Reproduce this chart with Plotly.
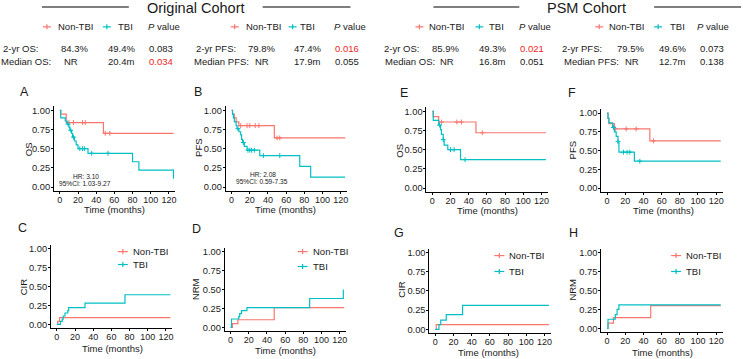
import plotly.graph_objects as go

W, H = 743, 359
RED = "#F8766D"
TEAL = "#00BFC4"
TXT = "#1a1a1a"
PRED = "#F01E1E"
FONT = "Liberation Sans, Arial, sans-serif"

# ---------------- data ----------------
# Panel A: OS, original cohort
A_non_t = [0, 1, 7, 48, 125]
A_non_s = [1.0, 0.95, 0.84, 0.70, 0.70]
A_non_c = [10, 15, 25, 28, 50, 55]
A_tbi_t = [0, 1, 6, 8, 10, 11, 13, 14, 16, 18, 20, 31, 80, 87, 125]
A_tbi_s = [1.0, 0.90, 0.86, 0.82, 0.78, 0.74, 0.70, 0.65, 0.60, 0.55, 0.50, 0.44, 0.33, 0.22, 0.11]
A_tbi_c = [9, 12, 15, 22, 25, 27, 35, 53]
# Panel B: PFS, original cohort
B_non_t = [0, 1, 3, 5, 8, 47, 125]
B_non_s = [1.0, 0.95, 0.90, 0.85, 0.80, 0.64, 0.64]
B_non_c = [10, 17, 20, 26, 30, 50, 53]
B_tbi_t = [0, 1, 2, 3, 5, 6, 8, 10, 11, 12, 14, 17, 31, 75, 87, 125]
B_tbi_s = [1.0, 0.95, 0.90, 0.85, 0.80, 0.76, 0.72, 0.68, 0.62, 0.58, 0.53, 0.48, 0.41, 0.27, 0.13, 0.13]
B_tbi_c = [7, 13, 18, 20, 22, 25, 35, 53]
# Panel E: OS, PSM cohort
E_non_t = [0, 1, 7, 48, 125]
E_non_s = [1.0, 0.93, 0.86, 0.72, 0.72]
E_non_c = [10, 27, 32, 55]
E_tbi_t = [0, 1, 7, 9, 10, 12, 13, 17, 31, 125]
E_tbi_s = [1.0, 0.88, 0.82, 0.76, 0.70, 0.63, 0.56, 0.50, 0.37, 0.37]
E_tbi_c = [8, 12, 20, 24, 36]
# Panel F: PFS, PSM cohort
F_non_t = [0, 1, 2, 8, 47, 125]
F_non_s = [1.0, 0.93, 0.86, 0.79, 0.63, 0.63]
F_non_c = [9, 21, 32, 51]
F_tbi_t = [0, 1, 2, 6, 8, 10, 12, 13, 30, 125]
F_tbi_s = [1.0, 0.93, 0.87, 0.81, 0.75, 0.69, 0.62, 0.48, 0.36, 0.36]
F_tbi_c = [7, 12, 18, 22, 25, 36]
# Panel C: CIR, original cohort
C_non_t = [0, 1, 3, 125]
C_non_s = [0.0, 0.04, 0.09, 0.09]
C_tbi_t = [0, 4, 6, 7, 9, 12, 13, 31, 75, 125]
C_tbi_s = [0.0, 0.04, 0.07, 0.11, 0.15, 0.18, 0.22, 0.28, 0.39, 0.39]
# Panel D: NRM, original cohort
D_non_t = [0, 2, 8, 48, 125]
D_non_s = [0.0, 0.05, 0.10, 0.26, 0.26]
D_tbi_t = [0, 1, 9, 10, 12, 18, 87, 124]
D_tbi_s = [0.0, 0.11, 0.14, 0.18, 0.22, 0.26, 0.38, 0.50]
# Panel G: CIR, PSM cohort
G_non_t = [0, 1, 125]
G_non_s = [0.0, 0.06, 0.06]
G_tbi_t = [0, 4, 6, 12, 30, 125]
G_tbi_s = [0.0, 0.06, 0.12, 0.19, 0.31, 0.31]
# Panel H: NRM, PSM cohort
H_non_t = [0, 1, 7, 48, 125]
H_non_s = [0.0, 0.07, 0.14, 0.30, 0.30]
H_tbi_t = [0, 1, 9, 11, 13, 125]
H_tbi_s = [0.0, 0.12, 0.18, 0.25, 0.31, 0.31]

x_ticks = [0, 20, 40, 60, 80, 100, 120]
y_ticks = [0, 0.25, 0.5, 0.75, 1.0]
y_ticktext = ["0.00", "0.25", "0.50", "0.75", "1.00"]
groups = ["Non-TBI", "TBI"]

orig_rows = [["2-yr OS:", "84.3%", "49.4%", "0.083"], ["Median OS:", "NR", "20.4m", "0.034"]]
orig_rows2 = [["2-yr PFS:", "79.8%", "47.4%", "0.016"], ["Median PFS:", "NR", "17.9m", "0.055"]]
psm_rows = [["2-yr OS:", "85.9%", "49.3%", "0.021"], ["Median OS:", "NR", "16.8m", "0.051"]]
psm_rows2 = [["2-yr PFS:", "79.5%", "49.6%", "0.073"], ["Median PFS:", "NR", "12.7m", "0.138"]]
p_red = {"0.034", "0.016", "0.021"}

hr_A = ["HR: 3.10", "95%CI: 1.03-9.27"]
hr_B = ["HR: 2.08", "95%CI: 0.59-7.35"]

# ---------------- layout geometry (pixels) ----------------
def px(x):
    return x / W

def py(y):
    return 1 - y / H

XW = 121.5  # axis width in px
panels = [
    dict(L="A", yt="OS", non=(A_non_t, A_non_s, A_non_c), tbi=(A_tbi_t, A_tbi_s, A_tbi_c),
         box=(54, 106, 191), lp=(25, 92), ytp=(28, 149), xtp=(115, 210), leg=None, hr=(hr_A, 86, 176)),
    dict(L="B", yt="PFS", non=(B_non_t, B_non_s, B_non_c), tbi=(B_tbi_t, B_tbi_s, B_tbi_c),
         box=(226, 106, 191), lp=(198, 92), ytp=(198, 148), xtp=(286, 210), leg=None, hr=(hr_B, 263, 174)),
    dict(L="E", yt="OS", non=(E_non_t, E_non_s, E_non_c), tbi=(E_tbi_t, E_tbi_s, E_tbi_c),
         box=(427, 107, 192), lp=(405, 93), ytp=(400, 150), xtp=(488, 211), leg=None, hr=None),
    dict(L="F", yt="PFS", non=(F_non_t, F_non_s, F_non_c), tbi=(F_tbi_t, F_tbi_s, F_tbi_c),
         box=(602, 109, 192), lp=(573, 93), ytp=(573, 150), xtp=(664, 211), leg=None, hr=None),
    dict(L="C", yt="CIR", non=(C_non_t, C_non_s, []), tbi=(C_tbi_t, C_tbi_s, []),
         box=(51, 245, 329), lp=(23, 228), ytp=(23, 287), xtp=(113, 349), leg=(123, 252, 265), hr=None),
    dict(L="D", yt="NRM", non=(D_non_t, D_non_s, []), tbi=(D_tbi_t, D_tbi_s, []),
         box=(225, 248, 332), lp=(197, 229), ytp=(196, 290), xtp=(286, 351), leg=(303, 252, 267), hr=None),
    dict(L="G", yt="CIR", non=(G_non_t, G_non_s, []), tbi=(G_tbi_t, G_tbi_s, []),
         box=(430, 249, 334), lp=(400, 233), ytp=(402, 290), xtp=(489, 353), leg=(500, 256, 272), hr=None),
    dict(L="H", yt="NRM", non=(H_non_t, H_non_s, []), tbi=(H_tbi_t, H_tbi_s, []),
         box=(602, 249, 333), lp=(574, 233), ytp=(573, 290), xtp=(663, 353), leg=(677, 256, 272), hr=None),
]

def step_val(ts, ss, tc):
    v = ss[0]
    for t, s in zip(ts, ss):
        if t <= tc:
            v = s
    return v

fig = go.Figure()
annotations = []
shapes = []

def add_text(x, y, text, size=9.5, color=TXT, xanchor="left", angle=0, yanchor="middle"):
    annotations.append(dict(x=px(x), y=py(y), xref="paper", yref="paper", text=text, showarrow=False,
                            xanchor=xanchor, yanchor=yanchor, textangle=angle, borderpad=0,
                            font=dict(family=FONT, size=size, color=color)))

def add_marker(x, y, color, half=5):
    shapes.append(dict(type="line", xref="paper", yref="paper", x0=px(x - half), x1=px(x + half),
                       y0=py(y), y1=py(y), line=dict(color=color, width=1.2)))
    shapes.append(dict(type="line", xref="paper", yref="paper", x0=px(x), x1=px(x),
                       y0=py(y - 2.5), y1=py(y + 2.5), line=dict(color=color, width=1.2)))

for i, p in enumerate(panels, start=1):
    xa = "x" if i == 1 else f"x{i}"
    ya = "y" if i == 1 else f"y{i}"
    for (t, s, c), col, name in [(p["non"], RED, groups[0]), (p["tbi"], TEAL, groups[1])]:
        fig.add_trace(go.Scatter(x=t, y=s, mode="lines", line=dict(color=col, width=1.2, shape="hv"),
                                 xaxis=xa, yaxis=ya, showlegend=False, name=name, hoverinfo="skip"))
        if c:
            fig.add_trace(go.Scatter(x=c, y=[step_val(t, s, v) for v in c], mode="markers",
                                     marker=dict(symbol="cross-thin", size=3.5, line=dict(color=col, width=1)),
                                     xaxis=xa, yaxis=ya, showlegend=False, hoverinfo="skip"))
    x0, yt, yb = p["box"]
    ax = dict(domain=[px(x0), px(x0 + XW)], range=[-6.5, 127], tickvals=x_ticks, showline=True,
              linecolor="black", linewidth=1, ticks="outside", ticklen=2, tickcolor="black",
              showgrid=False, zeroline=False, tickfont=dict(family=FONT, size=9, color=TXT),
              tickangle=0, ticklabelstandoff=-2, anchor=ya, fixedrange=True)
    ay = dict(domain=[py(yb), py(yt)], range=[-0.05, 1.05], tickvals=y_ticks, ticktext=y_ticktext,
              showline=True, linecolor="black", linewidth=1, ticks="outside", ticklen=2, tickcolor="black",
              showgrid=False, zeroline=False, tickfont=dict(family=FONT, size=9.3, color=TXT),
              ticklabelstandoff=-1, anchor=xa, fixedrange=True)
    fig.update_layout(**{("xaxis" if i == 1 else f"xaxis{i}"): ax, ("yaxis" if i == 1 else f"yaxis{i}"): ay})
    add_text(p["lp"][0], p["lp"][1], p["L"], size=12.5, xanchor="center")
    add_text(p["ytp"][0], p["ytp"][1], p["yt"], size=9.5, xanchor="center", angle=-90)
    add_text(p["xtp"][0], p["xtp"][1], "Time (months)", size=9.5, xanchor="center")
    if p["leg"]:
        lx, ly1, ly2 = p["leg"]
        add_marker(lx, ly1, RED)
        add_marker(lx, ly2, TEAL)
        add_text(lx + 9, ly1, groups[0], size=9.5)
        add_text(lx + 9, ly2, groups[1], size=9.5)
    if p["hr"]:
        lines, hx, hy = p["hr"]
        add_text(hx, hy, lines[0], size=6.6, xanchor="center")
        add_text(hx - 1, hy + 8, lines[1], size=6.6, xanchor="center")

# ---------------- header tables ----------------
def header_line(x0, x1, y=6):
    shapes.append(dict(type="line", xref="paper", yref="paper", x0=px(x0), x1=px(x1), y0=py(y), y1=py(y),
                       line=dict(color="#555555", width=1.4)))

header_line(42, 129)
header_line(263, 351)
header_line(434, 520)
header_line(655, 742)
add_text(196, 7, "Original Cohort", size=14.5, xanchor="center")
add_text(587, 7, "PSM Cohort", size=14.5, xanchor="center")

def legend_row(xs, y=26):
    (m1, t1, m2, t2, pv) = xs
    add_marker(m1, y, RED, half=4)
    add_text(t1, y, groups[0])
    add_marker(m2, y, TEAL, half=4)
    add_text(t2, y, groups[1])
    add_text(pv, y, "<i>P</i> value")

legend_row((47, 57, 107, 117, 147))
legend_row((235, 245, 293, 299, 333))
legend_row((420, 429, 480, 489, 519))
legend_row((600, 609, 659, 670, 697))

def table(rows, xs, ys=(48, 61)):
    for row, y, xr in zip(rows, ys, xs):
        for val, x in zip(row, xr):
            add_text(x, y, val, color=PRED if val in p_red else TXT)

table(orig_rows, [(2, 60, 107, 148), (0, 63, 107, 148)])
table(orig_rows2, [(195, 247, 293, 334), (193, 254, 293, 334)])
table(psm_rows, [(384, 432, 479, 520), (385, 440, 479, 520)])
table(psm_rows2, [(562, 617, 659, 700), (564, 625, 659, 700)])

fig.update_layout(width=W, height=H, margin=dict(l=0, r=0, t=0, b=0), plot_bgcolor="white",
                  paper_bgcolor="white", showlegend=False, annotations=annotations, shapes=shapes,
                  font=dict(family=FONT, color=TXT))
fig.write_html("out.html", config={"displayModeBar": False},
               post_script="document.body.style.margin='0';document.body.style.overflow='hidden';")
